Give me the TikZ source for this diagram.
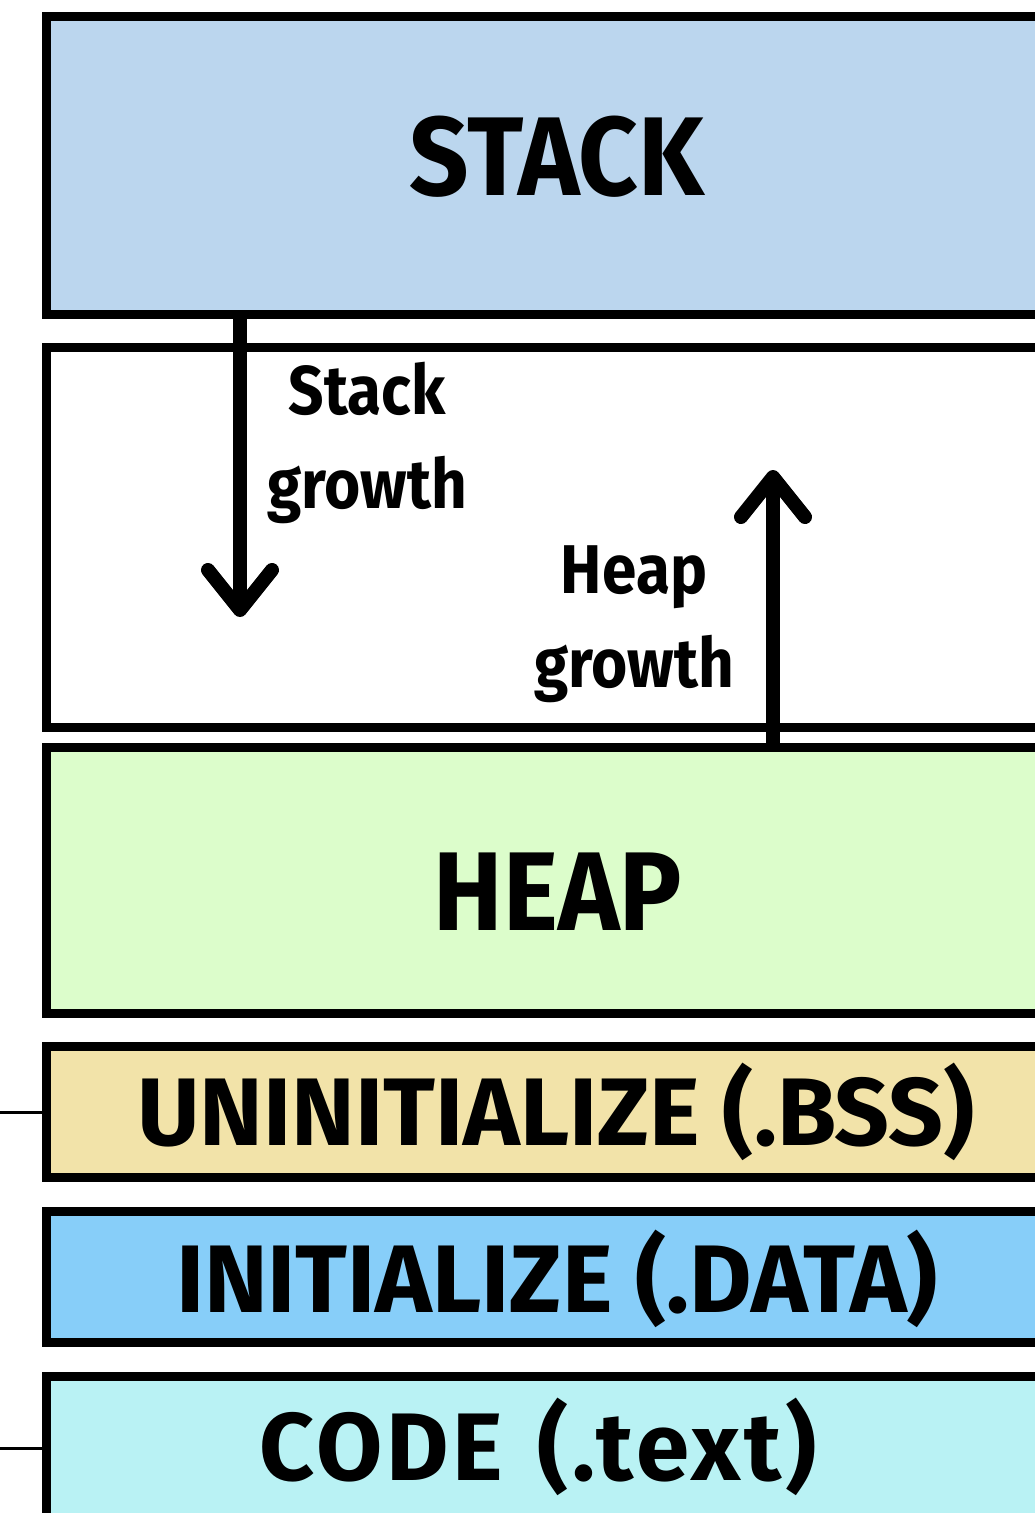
\documentclass[tikz,border=0pt]{standalone}
\usepackage{fontspec}
\setmainfont{Fira Sans}
\usetikzlibrary{arrows.meta}
\definecolor{stackc}{HTML}{BBD6EE}
\definecolor{heapc}{HTML}{DCFDCB}
\definecolor{bssc}{HTML}{F2E3A9}
\definecolor{datac}{HTML}{87CEF9}
\definecolor{codec}{HTML}{B9F2F4}
\begin{document}
\begin{tikzpicture}[x=1pt,y=-1pt,
  seg/.style={draw=black,line width=9pt,rectangle,anchor=north west,inner sep=0pt,outer sep=0pt,minimum width=1010pt},
  bigtext/.style={anchor=base,inner sep=0pt,xscale=0.93,font=\fontsize{112}{112}\selectfont\bfseries},
  midtext/.style={anchor=base,inner sep=0pt,font=\fontsize{96}{96}\selectfont\bfseries},
  smalltext/.style={anchor=base,inner sep=0pt,align=center,xscale=0.9,font=\fontsize{69}{94}\selectfont\bfseries},
  growarrow/.style={line width=14pt,-{Straight Barb[length=40pt,width=64pt,line width=14pt,round]}},
  tick/.style={line width=3pt}]
\useasboundingbox (0,0) rectangle (1035,1513);
\clip (0,0) rectangle (1035,1513);
\fill[white] (0,0) rectangle (1035,1513);
\node[seg, fill=stackc, minimum height=298pt] (stack) at (46.5,16.5) {};
\node[seg, fill=white, minimum height=379.5pt] (free) at (46.5,347.5) {};
\node[seg, fill=heapc, minimum height=266pt] (heap) at (46.5,747.5) {};
\node[seg, fill=bssc, minimum height=131pt] (bss) at (46.5,1046.5) {};
\node[seg, fill=datac, minimum height=131.5pt] (data) at (46.5,1211) {};
\node[seg, fill=codec, minimum height=200pt] (code) at (46.5,1376) {};
\node[bigtext] (stackt) at (557,195) {STACK};
\node[bigtext] (heapt) at (558,930) {HEAP};
\node[midtext] (bsst) at (556,1145) {UNINITIALIZE (.BSS)};
\node[midtext] (datat) at (557,1312) {INITIALIZE (.DATA)};
\node[midtext] (codet) at (538,1480) {\addfontfeatures{LetterSpace=4}CODE\hspace{8pt} (.text)};
\node[smalltext] (sgt) at (367,508) {Stack\\growth};
\node[smalltext] (hgt) at (634,687) {Heap\\growth};
\coordinate (sgtip) at (240,617);
\coordinate (hgtip) at (773,470);
\draw[growarrow] (stack.south -| sgtip) -- (sgtip);
\draw[growarrow] (heap.north -| hgtip) -- (hgtip);
\coordinate (t1) at (0,1112);
\coordinate (t2) at (0,1448);
\draw[tick] (t1) -- (t1 -| bss.west);
\draw[tick] (t2) -- (t2 -| code.west);
\end{tikzpicture}
\end{document}
